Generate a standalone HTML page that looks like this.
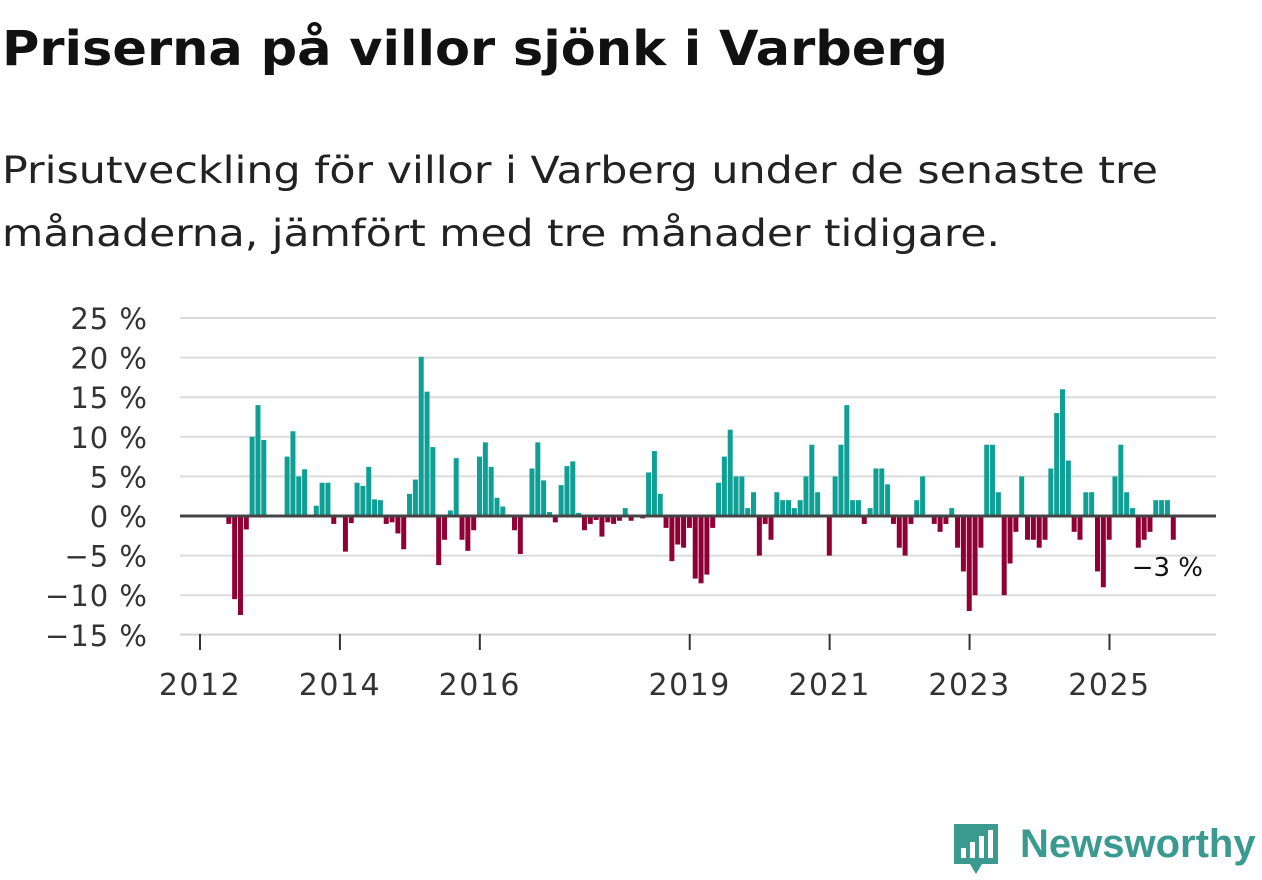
<!DOCTYPE html>
<html><head><meta charset="utf-8"><style>
body{margin:0;width:1262px;height:879px;background:#fff;font-family:"DejaVu Sans",sans-serif;color:#111;overflow:hidden;position:relative}
svg{position:absolute;left:0;top:0}
</style></head><body>
<svg id="chart" width="1262" height="879">
<text x="2" y="65" font-family="DejaVu Sans, sans-serif" font-weight="bold" font-size="48" fill="#111" textLength="946" lengthAdjust="spacingAndGlyphs">Priserna på villor sjönk i Varberg</text>
<text x="2" y="183" font-family="DejaVu Sans, sans-serif" font-size="37" fill="#222" textLength="1156" lengthAdjust="spacingAndGlyphs">Prisutveckling för villor i Varberg under de senaste tre</text>
<text x="2" y="246" font-family="DejaVu Sans, sans-serif" font-size="37" fill="#222" textLength="998" lengthAdjust="spacingAndGlyphs">månaderna, jämfört med tre månader tidigare.</text>
</svg>
<script>
const startYear = 2012;
const firstMonthIndex = 4;
const values = [-1,-10.5,-12.5,-1.7,10,14,9.6,null,null,null,7.5,10.7,5,5.9,null,1.3,4.2,4.2,-1,null,-4.5,-0.9,4.2,3.8,6.2,2.1,2,-1,-0.8,-2.2,-4.2,2.8,4.6,20.1,15.7,8.7,-6.2,-3,0.7,7.3,-3,-4.4,-1.8,7.5,9.3,6.2,2.3,1.2,0.2,-1.8,-4.8,null,6,9.3,4.5,0.5,-0.8,3.9,6.3,6.9,0.4,-1.8,-1,-0.5,-2.6,-0.8,-1,-0.6,1,-0.6,null,-0.3,5.5,8.2,2.8,-1.5,-5.7,-3.6,-4,-1.5,-7.9,-8.5,-7.4,-1.5,4.2,7.5,10.9,5,5,1,3,-5,-1,-3,3,2,2,1,2,5,9,3,null,-5,5,9,14,2,2,-1,1,6,6,4,-1,-4,-5,-1,2,5,null,-1,-2,-1,1,-4,-7,-12,-10,-4,9,9,3,-10,-6,-2,5,-3,-3,-4,-3,6,13,16,7,-2,-3,3,3,-7,-9,-3,5,9,3,1,-4,-3,-2,2,2,2,-3];
const yTicks = [25,20,15,10,5,0,-5,-10,-15];
const xTickYears = [2012,2014,2016,2019,2021,2023,2025];
const lastLabel = "−3 %";

const svg = document.getElementById('chart');
const NS = 'http://www.w3.org/2000/svg';
const x0 = 200, pxPerMonth = 5.83, plotL = 180, plotR = 1216;
const y0 = 516, pxPerPct = 7.92;
const xScale = m => x0 + m * pxPerMonth;
const yScale = v => y0 - v * pxPerPct;
const FONT = 'DejaVu Sans, sans-serif';
function mk(tag, attrs){const e=document.createElementNS(NS,tag);for(const k in attrs)e.setAttribute(k,attrs[k]);svg.appendChild(e);return e;}

yTicks.forEach(t=>{
  const g = mk('line',{x1:plotL,x2:plotR,y1:yScale(t),y2:yScale(t),stroke:'#dcdcdc','stroke-width':2});
  
  
  const tx = mk('text',{x:148,y:yScale(t)+11,'text-anchor':'end','font-size':29,'letter-spacing':1,fill:'#333','font-family':FONT});
  tx.textContent = (t<0?'−'+(-t):t)+' %';
  
  
});
const xa = mk('line',{x1:plotL,x2:plotR,y1:634,y2:634,stroke:'#ccc','stroke-width':1});


xTickYears.forEach(yr=>{
  const x = xScale((yr-startYear)*12);
  const tk = mk('line',{x1:x,x2:x,y1:634,y2:650,stroke:'#333','stroke-width':2});
  
  
  const tx = mk('text',{x:x,y:695,'text-anchor':'middle','font-size':30,'letter-spacing':1.5,fill:'#333','font-family':FONT});
  tx.textContent = yr;
  
  
});
values.forEach((v,i)=>{
  if(v===null) return;
  const m = firstMonthIndex + i;
  const x = xScale(m) + 3;
  const yt = Math.min(yScale(v), y0), h = Math.abs(yScale(v)-y0);
  const r = mk('rect',{x:x,y:yt,width:5,height:h,fill:v>=0?'#0fa095':'#8f0035'});
  
  
});
const zl = mk('line',{x1:plotL,x2:plotR,y1:y0,y2:y0,stroke:'#444','stroke-width':3});


const lbl = mk('text',{x:1203,y:576,'text-anchor':'end','font-size':26,fill:'#111','font-family':FONT});
lbl.textContent = lastLabel;


</script>
<div style="position:absolute;left:950px;top:820px;height:60px;">
  <svg width="52" height="58" style="position:absolute;left:0;top:0">
    <path d="M4 4 H48 V44 H32 L26 54 L20 44 H4 Z" fill="#3a9a8f"/>
    <rect x="11" y="28" width="5" height="10" fill="#fff"/><rect x="20" y="22" width="5" height="16" fill="#fff"/><rect x="29" y="16" width="5" height="22" fill="#fff"/><rect x="38" y="10" width="5" height="28" fill="#fff"/>
  </svg>
  <span style="position:absolute;left:70px;top:2px;font-family:'Liberation Sans',sans-serif;font-size:40px;font-weight:bold;color:#3a9a8f;white-space:nowrap">Newsworthy</span>
</div>
</body></html>
